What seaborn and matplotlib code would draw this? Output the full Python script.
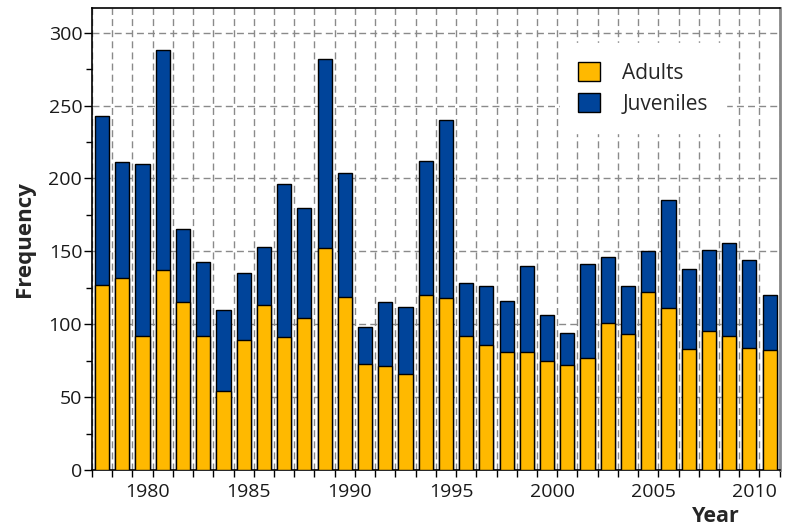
import numpy as np
import pandas as pd
import matplotlib
matplotlib.use("Agg")
import matplotlib.pyplot as plt
import matplotlib.transforms as mtransforms
from matplotlib.patches import Patch
from matplotlib.ticker import MultipleLocator, FixedLocator
import seaborn as sns

# Annual counts of adults and juveniles
years = list(range(1978, 2012))
adults = [127, 132, 92, 137, 115, 92, 54, 89, 113, 91, 104, 152, 119,
          73, 71, 66, 120, 118, 92, 86, 81, 81, 75, 72, 77, 101, 93,
          122, 111, 83, 95, 92, 84, 82]
totals = [243, 211, 210, 288, 165, 143, 110, 135, 153, 196, 180, 282, 204,
          98, 115, 112, 212, 240, 128, 126, 116, 140, 106, 94, 141, 146, 126,
          150, 185, 138, 151, 156, 144, 120]
juveniles = [t - a for t, a in zip(totals, adults)]
series_names = ["Adults", "Juveniles"]
year_labels = [1980, 1985, 1990, 1995, 2000, 2005, 2010]

df = pd.DataFrame({"Year": years, "Adults": adults, "Juveniles": juveniles})
df["Total"] = df["Adults"] + df["Juveniles"]

sns.set_style("white")
plt.rcParams["font.family"] = ["Open Sans", "DejaVu Sans"]

col_adult = "#FFB900"
col_juv = "#00449A"

fig = plt.figure(figsize=(7.86, 5.26), dpi=100)
ax = fig.add_axes([0.117, 0.1065, 0.875, 0.8785])

# Stacked bars: totals (juveniles on top) then adults over them
sns.barplot(data=df, x="Year", y="Total", native_scale=True, color=col_juv,
            saturation=1, width=0.7, edgecolor="black", linewidth=1, ax=ax, zorder=2)
sns.barplot(data=df, x="Year", y="Adults", native_scale=True, color=col_adult,
            saturation=1, width=0.7, edgecolor="black", linewidth=1, ax=ax, zorder=3)

ax.set_xlim(years[0] - 0.5, years[-1] + 0.5)
ax.set_ylim(0, 317)

# Axis ticks
ax.xaxis.set_major_locator(FixedLocator(year_labels))
ax.xaxis.set_minor_locator(FixedLocator(np.arange(years[0] - 0.5, years[-1] + 1.0, 1.0)))
ax.yaxis.set_major_locator(MultipleLocator(50))
ax.yaxis.set_minor_locator(MultipleLocator(25))
ax.tick_params(axis="x", which="major", length=0, pad=9.5, labelsize=14, colors="#1a1a1a")
ax.tick_params(axis="x", which="minor", length=5, width=1, direction="out", bottom=True)
ax.tick_params(axis="y", which="major", length=6, width=1, direction="out", left=True,
               pad=1, labelsize=14, colors="#1a1a1a")
ax.tick_params(axis="y", which="minor", length=4, width=1, direction="out", left=True)
ax.tick_params(axis="both", which="both", color="black")

shift = mtransforms.ScaledTranslation(5 / 100, 0, fig.dpi_scale_trans)
for lbl in ax.get_xticklabels():
    lbl.set_transform(lbl.get_transform() + shift)

# Dashed grid: horizontal at major y ticks, vertical at bar boundaries
ax.grid(False)
ax.yaxis.grid(True, which="major", linestyle=(0, (5, 3)), color="#8a8a8a", linewidth=1)
ax.xaxis.grid(True, which="minor", linestyle=(0, (5, 3)), color="#8a8a8a", linewidth=1)
ax.set_axisbelow(True)

for side in ["left", "bottom", "top"]:
    ax.spines[side].set_color("black")
    ax.spines[side].set_linewidth(1.2)
ax.spines["right"].set_color("#888888")
ax.spines["right"].set_linewidth(2)

ax.set_ylabel("Frequency", fontsize=16, fontweight="bold", labelpad=10)
ax.set_xlabel("Year", fontsize=15.5, fontweight="bold")
ax.xaxis.set_label_coords(0.907, -0.078)

handles = [Patch(facecolor=col_adult, edgecolor="black", linewidth=1),
           Patch(facecolor=col_juv, edgecolor="black", linewidth=1)]
leg = ax.legend(handles, series_names, loc="upper left", bbox_to_anchor=(0.680, 0.924),
                fontsize=15, frameon=True, fancybox=False, framealpha=1,
                handlelength=1.05, handleheight=1.05, handletextpad=1.05,
                labelspacing=0.45, borderpad=0.9, borderaxespad=0)
leg.get_frame().set_edgecolor("white")
leg.get_frame().set_facecolor("white")
leg.set_zorder(5)

fig.savefig("out.png", dpi=100)
